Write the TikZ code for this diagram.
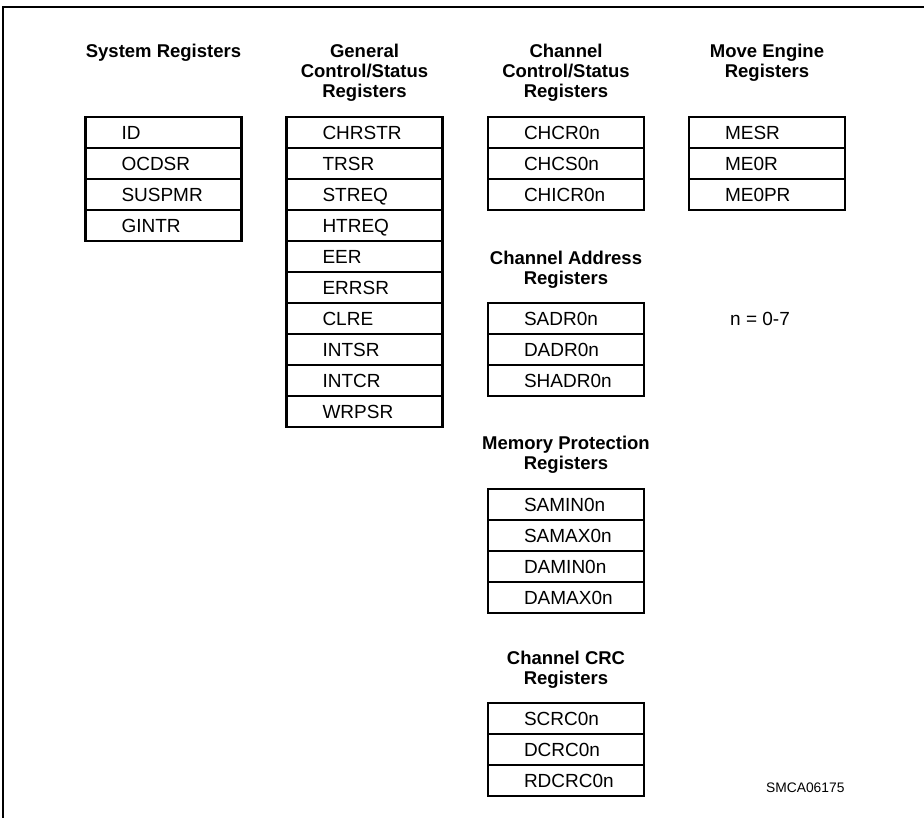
\documentclass[tikz,border=0pt]{standalone}
\usepackage{fontspec}
\setmainfont{Liberation Sans}
\begin{document}
\begin{tikzpicture}[x=1pt,y=-1pt,line width=2.4pt,
  reg/.style={draw,outer sep=0pt,minimum height=31pt,text width=84pt,inner xsep=36pt,
    inner ysep=0pt,align=left,text height=13.6pt,text depth=0pt,font=\fontsize{19}{20}\selectfont},
  head/.style={anchor=north,inner sep=0pt,align=center,font=\fontsize{18.5}{20}\selectfont\bfseries}]
  \useasboundingbox (0,0) rectangle (924,819);
  \draw[line width=1.8pt] (924,7) -- (3,7) -- (3,818);
  % column titles
  \node[head] (sysT) at (163.5,43) {System Registers};
  \node[head] (genT) at (364.5,43) {General\\Control/Status\\Registers};
  \node[head] (chsT) at (566,43) {Channel\\Control/Status\\Registers};
  \node[head] (meT) at (767,43) {Move Engine\\Registers};
  \node[head] (adrT) at (566,250) {Channel Address\\Registers};
  \node[head] (mprT) at (566,435) {Memory Protection\\Registers};
  \node[head] (crcT) at (566,650) {Channel CRC\\Registers};
  % register stacks
  \foreach \r [count=\i] in {ID,OCDSR,SUSPMR,GINTR}
    \node[reg] (sys\i) at (163.5,{101.5+31*\i}) {\r};
  \foreach \r [count=\i] in {CHRSTR,TRSR,STREQ,HTREQ,EER,ERRSR,CLRE,INTSR,INTCR,WRPSR}
    \node[reg] (gen\i) at (364.5,{101.5+31*\i}) {\r};
  \foreach \r [count=\i] in {CHCR0n,CHCS0n,CHICR0n}
    \node[reg] (chs\i) at (566,{101.5+31*\i}) {\r};
  \foreach \r [count=\i] in {MESR,ME0R,ME0PR}
    \node[reg] (me\i) at (767,{101.5+31*\i}) {\r};
  \foreach \r [count=\i] in {SADR0n,DADR0n,SHADR0n}
    \node[reg] (adr\i) at (566,{287.5+31*\i}) {\r};
  \foreach \r [count=\i] in {SAMIN0n,SAMAX0n,DAMIN0n,DAMAX0n}
    \node[reg] (mpr\i) at (566,{473.5+31*\i}) {\r};
  \foreach \r [count=\i] in {SCRC0n,DCRC0n,RDCRC0n}
    \node[reg] (crc\i) at (566,{687.5+31*\i}) {\r};
  \node[anchor=base west,inner sep=0pt,font=\fontsize{19}{20}\selectfont] (nnote) at (729,325) {n = 0-7};
  \node[anchor=base west,inner sep=0pt,font=\fontsize{13.8}{15}\selectfont] (figid) at (765,792) {SMCA06175};
\end{tikzpicture}
\end{document}
